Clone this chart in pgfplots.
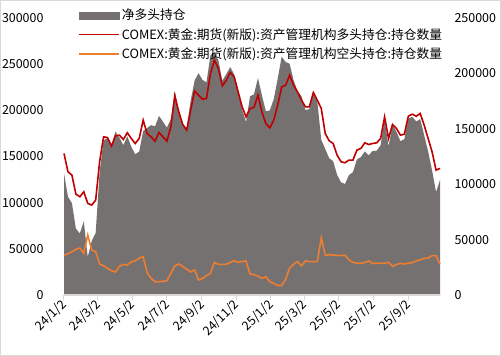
\documentclass[border=0pt]{standalone}
\usepackage{pgfplots}
\pgfplotsset{compat=1.18}
\usepackage{pgfplotstable}
\usepackage{fontspec}
\setmainfont{Noto Sans CJK SC}

\definecolor{netgray}{HTML}{767171}
\definecolor{longred}{HTML}{C00000}
\definecolor{shortorange}{HTML}{ED7D31}
\definecolor{axgray}{HTML}{D9D9D9}

\pgfplotstableread{
w long short net
0 153300 43300 110000
1 133400 44700 88700
2 129800 46900 82900
3 109300 49400 59900
4 106400 50900 55500
5 111800 45100 66700
6 99200 64900 34300
7 97400 48700 48700
8 102800 46900 55900
9 144300 33500 110800
10 171300 31700 139600
11 170500 28900 141600
12 161200 26300 134900
13 172400 24900 147500
14 173100 31000 142100
15 168400 33200 135200
16 175700 32500 143200
17 169500 35700 133800
18 164100 37100 127000
19 169500 40000 129500
20 189400 41500 147900
21 174900 24200 150700
22 171300 18000 153300
23 166600 14400 152200
24 176000 14400 161600
25 171300 14800 156500
26 166600 15500 151100
27 182100 23400 158700
28 215700 31700 184000
29 198400 33500 164900
30 184700 31000 153700
31 178500 27800 150700
32 200200 24900 175300
33 220700 27100 193600
34 216400 16200 200200
35 212100 18000 194100
36 212800 20900 191900
37 239800 23400 216400
38 254300 35300 219000
39 245300 33200 212100
40 226500 33200 193300
41 232600 33200 199400
42 241000 35300 205700
43 236200 37100 199100
44 220000 35300 184700
45 203800 36400 167400
46 192900 36800 156100
47 202000 22700 179300
48 203100 22000 181100
49 216400 20600 195800
50 198400 18000 180400
51 185700 19800 165900
52 181000 14400 166600
53 189400 12600 176800
54 205600 10300 195300
55 225400 10300 215100
56 227200 17000 210200
57 238000 29200 208800
58 227200 33200 194000
59 220000 36100 183900
60 211000 31600 179400
61 203800 36900 166900
62 203800 36100 167700
63 219300 36100 183200
64 211000 36100 174900
65 202000 62000 140000
66 174900 43000 131900
67 167000 43600 123400
68 164100 43300 120800
69 151500 43000 108500
70 144300 42600 101700
71 143200 43000 100200
72 146100 37900 108200
73 146100 35300 110800
74 156900 34600 122300
75 158700 34300 124400
76 164800 35300 129500
77 163000 36900 126100
78 164100 34000 130100
79 164800 34600 130200
80 169500 34300 135200
81 192900 34500 158400
82 169500 35300 134200
83 184700 31000 153700
84 180400 33000 147400
85 173100 34300 138800
86 174200 33500 140700
87 193700 34500 159200
88 195800 35000 160800
89 193700 37100 156600
90 196600 37900 158700
91 183900 39700 144200
92 169500 40000 129500
93 155100 42700 112400
94 135300 42400 92900
95 137100 33400 103700
}\data

\pgfplotsset{
  base/.style={
    scale only axis, width=376bp, height=277bp,
    at={(0,0)}, anchor=south west,
    xmin=0, xmax=665,
    font=\fontsize{12.5}{14}\selectfont,
    /pgf/number format/assume math mode=true,
    /pgf/number format/fixed,
    /pgf/number format/1000 sep={},
    scaled y ticks=false,
    y axis line style={draw=none},
    ytick style={draw=none},
    clip=false,
  }
}

\begin{document}
\begin{tikzpicture}
\useasboundingbox (-64bp,-61bp) rectangle (437bp,295bp);
% right axis: net long area
\begin{axis}[base,
  ymin=0, ymax=250000,
  ytick={0,50000,100000,150000,200000,250000},
  axis y line*=right,
  axis x line=none,
  yticklabel style={anchor=west, xshift=11bp},
]
\addplot[fill=netgray, draw=none] table[x expr=\thisrow{w}*7, y=net] {\data} \closedcycle;
\end{axis}
% left axis: long and short
\begin{axis}[base,
  ymin=0, ymax=300000,
  ytick={0,50000,100000,150000,200000,250000,300000},
  axis y line*=left,
  axis x line*=bottom,
  x axis line style={axgray, line width=1.2bp},
  xtick={0,60,121,182,244,305,366,425,486,547,609},
  xticklabels={24/1/2,24/3/2,24/5/2,24/7/2,24/9/2,24/11/2,25/1/2,25/3/2,25/5/2,25/7/2,25/9/2},
  xtick style={axgray, line width=1bp},
  tick align=outside,
  major tick length=5bp,
  xticklabel style={rotate=45, anchor=east, xshift=2bp, yshift=-2bp},
  yticklabel style={anchor=east, xshift=-12bp},
  legend style={at={(0.037,1.04)}, anchor=north west, draw=none, fill=none,
    font=\fontsize{12.8}{14}\selectfont, row sep=3bp, inner sep=0pt,
    /tikz/every even column/.append style={column sep=0bp}},
  legend cell align=left,
]
\addlegendimage{legend image code/.code={\fill[netgray] (0bp,-3.5bp) rectangle (40bp,3.5bp);}}
\addlegendentry{净多头持仓}
\addplot[longred, line width=1.6bp,
  legend image code/.code={\draw[longred, line width=1.8bp] (0bp,0bp) -- (40bp,0bp);}]
  table[x expr=\thisrow{w}*7, y=long] {\data};
\addlegendentry{COMEX:黄金:期货(新版):资产管理机构多头持仓:持仓数量}
\addplot[shortorange, line width=1.6bp,
  legend image code/.code={\draw[shortorange, line width=1.8bp] (0bp,0bp) -- (40bp,0bp);}]
  table[x expr=\thisrow{w}*7, y=short] {\data};
\addlegendentry{COMEX:黄金:期货(新版):资产管理机构空头持仓:持仓数量}
\end{axis}
\draw[axgray, line width=1.5bp] (-63.25bp,-60.25bp) rectangle (436.25bp,294.25bp);
\end{tikzpicture}
\end{document}
